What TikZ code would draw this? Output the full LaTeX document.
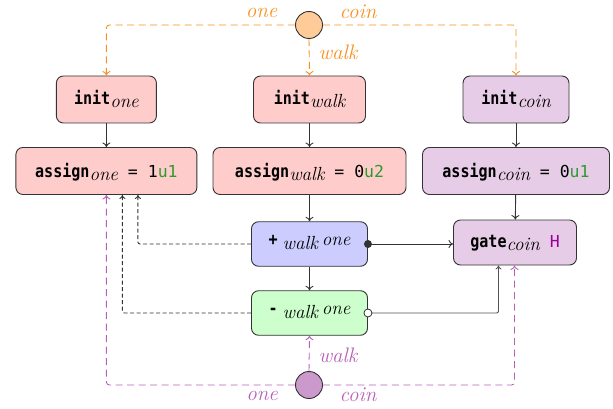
\documentclass[tikz,border=0pt]{standalone}
\usepackage{fontspec}
\usetikzlibrary{arrows.meta}
\newfontfamily\kwfont[FakeStretch=0.86]{DejaVu Sans Mono}
\newfontfamily\valfont{DejaVu Sans Mono}

\definecolor{pinkfill}{HTML}{FFCCCC}
\definecolor{lilacfill}{HTML}{E6CCE6}
\definecolor{bluefill}{HTML}{CCCCFF}
\definecolor{greenfill}{HTML}{CCFFCC}
\definecolor{orangeline}{HTML}{F7901E}
\definecolor{orangefill}{HTML}{FFCC99}
\definecolor{plumline}{HTML}{B860B8}
\definecolor{plumfill}{HTML}{CC99CC}
\definecolor{valgreen}{HTML}{2E9A2E}
\definecolor{gatepurple}{HTML}{990099}
\definecolor{edgegray}{HTML}{333333}

% keyword, value and italic name helpers
\newcommand{\kw}[1]{{\kwfont\bfseries\fontsize{17.5}{17.5}\selectfont #1}}
\newcommand{\val}[1]{{\valfont\fontsize{16.5}{16.5}\selectfont #1}}
\newcommand{\itname}[1]{{\fontsize{19}{19}\selectfont\itshape\addfontfeature{FakeBold=0.6}#1}}
\newcommand{\subtag}[1]{\raisebox{-3pt}{\itname{#1}}}
\newcommand{\lbl}[1]{{\fontsize{21}{21}\selectfont\itshape\addfontfeature{FakeBold=0.5}#1}}

\begin{document}
\begin{tikzpicture}[x=1pt,y=-1pt,
  box/.style={draw=edgegray, line width=0.9pt, rounded corners=7pt, inner sep=0pt,
              text height=14pt, text depth=3pt},
  tall/.style={minimum height=47pt},
  short/.style={minimum height=44.5pt},
  pinkbox/.style={box, tall, fill=pinkfill},
  lilacbox/.style={box, fill=lilacfill},
  flow/.style={draw=edgegray, line width=0.9pt, -{To[length=4.5pt,width=8pt]}},
  backflow/.style={draw=edgegray, line width=0.9pt, dash pattern=on 4pt off 2.5pt,
                   rounded corners=2pt, -{To[length=4pt,width=6pt]}},
  orangedash/.style={draw=orangeline, line width=0.9pt, dash pattern=on 7pt off 4.5pt,
                     rounded corners=3pt, -{To[length=4.5pt,width=8pt]}},
  plumdash/.style={draw=plumline, line width=0.9pt, dash pattern=on 7pt off 4.5pt,
                   rounded corners=3pt, -{To[length=4.5pt,width=8pt]}},
  src/.style={circle, draw=edgegray, line width=0.9pt, minimum size=27pt, inner sep=0pt},
  orangelbl/.style={text=orangeline, anchor=base, inner sep=0pt},
  plumlbl/.style={text=plumline, anchor=base, inner sep=0pt}
]
\useasboundingbox (0,0) rectangle (613,409);

% initialisation row
\node[pinkbox, minimum width=100pt] (initone) at (106.4,99.5) {\kw{init}\subtag{one}};
\node[pinkbox, minimum width=112pt] (initwalk) at (309.5,99.5) {\kw{init}\subtag{walk}};
\node[lilacbox, tall, minimum width=106pt] (initcoin) at (516,99.5) {\kw{init}\subtag{coin}};

% assignment row
\node[pinkbox, minimum width=181pt, text height=15pt] (assignone) at (106.4,171)
  {\kw{assign}\subtag{one}\val{~=~1\textcolor{valgreen}{u1}}};
\node[pinkbox, minimum width=193pt, text height=15pt] (assignwalk) at (309.5,171)
  {\kw{assign}\subtag{walk}\val{~=~0\textcolor{valgreen}{u2}}};
\node[lilacbox, tall, minimum width=187pt, text height=15pt] (assigncoin) at (516,171)
  {\kw{assign}\subtag{coin}\val{~=~0\textcolor{valgreen}{u1}}};

% arithmetic and gate
\node[box, short, fill=bluefill, minimum width=116pt, text height=10pt, text depth=8pt] (plus) at (309.5,244)
  {\kw{+}\hspace{5pt}\raisebox{-4pt}{\itname{walk}}\hspace{4pt}\itname{one}};
\node[box, short, fill=greenfill, minimum width=116pt, text height=10pt, text depth=8pt] (minus) at (309.5,313)
  {\kw{-}\hspace{5pt}\raisebox{-4pt}{\itname{walk}}\hspace{4pt}\itname{one}};
\node[lilacbox, minimum height=45pt, minimum width=123pt, text height=13pt, text depth=3.4pt] (gate) at (515,242.5)
  {\kw{gate}\subtag{coin}\val{~\textcolor{gatepurple}{H}}};

% sources
\node[src, fill=orangefill] (topsrc) at (309,25) {};
\node[src, fill=plumfill] (botsrc) at (309,385) {};

% main flow
\draw[flow] (initone) -- (assignone);
\draw[flow] (initwalk) -- (assignwalk);
\draw[flow] (initcoin) -- (assigncoin);
\draw[flow] (assignwalk) -- (plus);
\draw[flow] (plus) -- (minus);
\draw[flow] (assigncoin) -- (gate);
\draw[flow] (plus.east) -- (plus.east -| gate.west);
\draw[flow, draw=edgegray!85, rounded corners=2pt, -{To[length=4pt,width=6pt]}]
  (minus.east) -| ([xshift=-16.5pt]gate.south);
\fill[edgegray] (plus.east) circle (4pt);
\draw[edgegray, line width=0.8pt, fill=white] (minus.east) circle (4pt);

% results fed back
\draw[backflow] (plus.west) -| ([xshift=31.5pt]assignone.south);
\draw[backflow] (minus.west) -| ([xshift=16pt]assignone.south);

% top source wires
\draw[orangedash] (topsrc.west) -| (initone.north);
\draw[orangedash] (topsrc.east) -| (initcoin.north);
\draw[orangedash] (topsrc.south) -- (initwalk.north);
\node[orangelbl] (tone) at (261.5,17.5) {\lbl{one}};
\node[orangelbl] (tcoin) at (358,18.3) {\lbl{coin}};
\node[orangelbl] (twalk) at (338,60) {\lbl{walk}};

% bottom source wires
\draw[plumdash] (botsrc.west) -| (assignone.south);
\draw[plumdash] (botsrc.east) -| ([xshift=-0.5pt]gate.south);
\draw[plumdash] (botsrc.north) -- (minus.south);
\node[plumlbl] (bwalk) at (338,362.7) {\lbl{walk}};
\node[plumlbl] (bone) at (262,400) {\lbl{one}};
\node[plumlbl] (bcoin) at (358,401.7) {\lbl{coin}};
\end{tikzpicture}
\end{document}
